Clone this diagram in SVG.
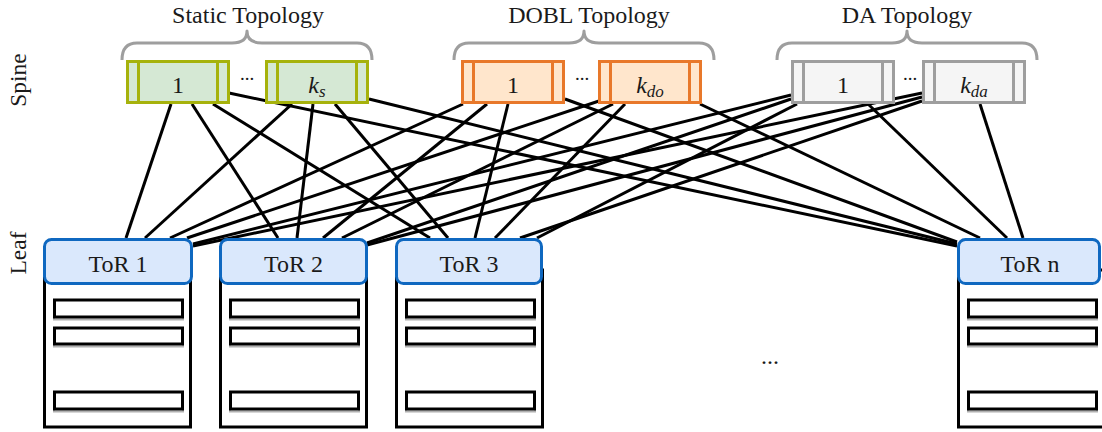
<svg xmlns="http://www.w3.org/2000/svg" width="1102" height="432" viewBox="0 0 1102 432">
  <style>
    text { font-family: "Liberation Serif", "Times New Roman", serif; fill: #1a1a1a; }
    .title { font-size: 24px; text-anchor: middle; }
    .lbl { font-size: 24px; text-anchor: middle; }
    .dots { font-size: 19px; text-anchor: middle; }
    .side { font-size: 23.5px; text-anchor: middle; }
    .it { font-style: italic; }
    .sub { font-size: 17px; font-style: italic; }
    .brace { fill: none; stroke: #9e9e9e; stroke-width: 3; stroke-linejoin: round; }
    .link { stroke: #000; stroke-width: 3; stroke-linecap: butt; }
    .st { fill: #d5e8d4; stroke: #a6b20c; stroke-width: 3; }
    .do { fill: #ffe6cc; stroke: #e8782a; stroke-width: 3; }
    .da { fill: #f5f5f5; stroke: #9e9e9e; stroke-width: 3; }
    .tor { fill: #dae8fc; stroke: #0f68c0; stroke-width: 3; }
    .rack { fill: #fff; stroke: #000; stroke-width: 3; }
    .slot { fill: #fff; stroke: #000; stroke-width: 3; }
    .slotsh { fill: none; stroke: #b0b0b0; stroke-width: 2; }
  </style>
  <defs>
    <!-- spine switch body with two inner side bars -->
    <g id="spineBox">
      <rect x="0" y="0" width="101" height="41"/>
      <line x1="11" y1="0" x2="11" y2="41"/>
      <line x1="90" y1="0" x2="90" y2="41"/>
    </g>
    <!-- server rack with three slots -->
    <g id="rack">
      <rect class="rack" x="0" y="30" width="146" height="157"/>
      <rect class="slotsh" x="9.5" y="61.5" width="129" height="18"/>
      <rect class="slot" x="10" y="60" width="128" height="17"/>
      <rect class="slotsh" x="9.5" y="89.5" width="129" height="17"/>
      <rect class="slot" x="10" y="88" width="128" height="16"/>
      <rect class="slotsh" x="9.5" y="153.5" width="129" height="18"/>
      <rect class="slot" x="10" y="152" width="128" height="17"/>
    </g>
  </defs>

  <!-- tier labels -->
  <text class="side" transform="translate(25.5,80) rotate(-90)">Spine</text>
  <text class="side" transform="translate(25.5,253) rotate(-90)">Leaf</text>

  <!-- topology groups: braces and titles -->
  <g id="braces">
    <path class="brace" d="M122,60 Q122,43 137,43 L232,43 Q247,43 247,31 Q247,43 262,43 L357,43 Q372,43 372,60"/>
    <path class="brace" d="M454,60 Q454,43 469,43 L569,43 Q584,43 584,31 Q584,43 599,43 L699,43 Q714,43 714,60"/>
    <path class="brace" d="M777,60 Q777,43 792,43 L892,43 Q907,43 907,31 Q907,43 922,43 L1022,43 Q1037,43 1037,60"/>
    <text class="title" x="248" y="23">Static Topology</text>
    <text class="title" x="589" y="23">DOBL Topology</text>
    <text class="title" x="907" y="23">DA Topology</text>
  </g>

  <!-- spine-to-leaf links -->
  <g id="connectors">
    <line class="link" x1="171" y1="104" x2="126" y2="238"/>
    <line class="link" x1="192" y1="104" x2="278" y2="238"/>
    <line class="link" x1="213" y1="104" x2="430" y2="238"/>
    <line class="link" x1="229" y1="93" x2="957" y2="246"/>

    <line class="link" x1="292" y1="104" x2="145" y2="238"/>
    <line class="link" x1="313" y1="104" x2="297" y2="238"/>
    <line class="link" x1="335" y1="104" x2="448" y2="238"/>
    <line class="link" x1="369" y1="99" x2="957" y2="244"/>

    <line class="link" x1="463" y1="104" x2="170" y2="238"/>
    <line class="link" x1="487" y1="104" x2="323" y2="238"/>
    <line class="link" x1="508" y1="104" x2="475" y2="238"/>
    <line class="link" x1="565" y1="99" x2="957" y2="242"/>

    <line class="link" x1="599" y1="101" x2="187" y2="238"/>
    <line class="link" x1="613" y1="104" x2="342" y2="238"/>
    <line class="link" x1="625" y1="104" x2="495" y2="238"/>
    <line class="link" x1="700" y1="104" x2="980" y2="238"/>

    <line class="link" x1="791" y1="95" x2="193" y2="244"/>
    <line class="link" x1="791" y1="99" x2="367" y2="243"/>
    <line class="link" x1="797" y1="104" x2="537" y2="238"/>
    <line class="link" x1="868" y1="104" x2="1007" y2="238"/>

    <line class="link" x1="922" y1="93" x2="193" y2="246"/>
    <line class="link" x1="922" y1="97" x2="367" y2="245"/>
    <line class="link" x1="922" y1="101" x2="520" y2="238"/>
    <line class="link" x1="980" y1="104" x2="1023" y2="238"/>
  </g>

  <!-- spine switches -->
  <g id="static-1">
    <use href="#spineBox" class="st" x="127.5" y="61.5"/>
    <text class="lbl" x="178" y="93">1</text>
  </g>
  <g id="static-ks">
    <use href="#spineBox" class="st" x="266.5" y="61.5"/>
    <text class="lbl" x="317" y="93"><tspan class="it">k</tspan><tspan class="sub" dy="4">s</tspan></text>
  </g>
  <text class="dots" x="247" y="80">...</text>

  <g id="dobl-1">
    <use href="#spineBox" class="do" x="462.5" y="61.5"/>
    <text class="lbl" x="513" y="93">1</text>
  </g>
  <g id="dobl-kdo">
    <use href="#spineBox" class="do" x="599.5" y="61.5"/>
    <text class="lbl" x="650" y="93"><tspan class="it">k</tspan><tspan class="sub" dy="4">do</tspan></text>
  </g>
  <text class="dots" x="582" y="80">...</text>

  <g id="da-1">
    <use href="#spineBox" class="da" x="792.5" y="61.5"/>
    <text class="lbl" x="843" y="93">1</text>
  </g>
  <g id="da-kda">
    <use href="#spineBox" class="da" x="923.5" y="61.5"/>
    <text class="lbl" x="974" y="93"><tspan class="it">k</tspan><tspan class="sub" dy="4">da</tspan></text>
  </g>
  <text class="dots" x="910" y="80">...</text>

  <!-- leaf switches with their racks -->
  <g id="tor-1">
    <use href="#rack" x="44.5" y="240"/>
    <rect class="tor" x="44.5" y="239.5" width="147" height="44" rx="7"/>
    <text class="lbl" x="118" y="272">ToR 1</text>
  </g>
  <g id="tor-2">
    <use href="#rack" x="220.5" y="240"/>
    <rect class="tor" x="220.5" y="239.5" width="146" height="44" rx="7"/>
    <text class="lbl" x="293.5" y="272">ToR 2</text>
  </g>
  <g id="tor-3">
    <use href="#rack" x="396.5" y="240"/>
    <rect class="tor" x="396.5" y="239.5" width="145" height="44" rx="7"/>
    <text class="lbl" x="469" y="272">ToR 3</text>
  </g>
  <g id="tor-n">
    <use href="#rack" x="958.5" y="240"/>
    <rect class="tor" x="958.5" y="239.5" width="141" height="44" rx="7"/>
    <text class="lbl" x="1030" y="272">ToR n</text>
  </g>
  <text class="lbl" x="770" y="364">...</text>
</svg>
